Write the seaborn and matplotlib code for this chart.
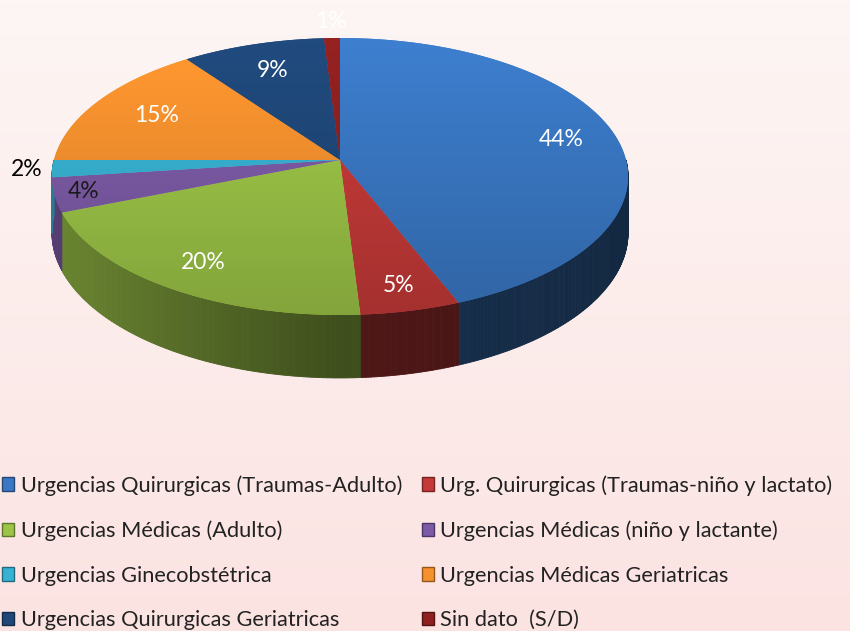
import numpy as np
import matplotlib
matplotlib.use("Agg")
import matplotlib.pyplot as plt
import seaborn as sns
from matplotlib.patches import Polygon, Patch
from matplotlib.collections import PolyCollection
from matplotlib.colors import to_rgb

# datos
categorias = [
    "Urgencias Quirurgicas (Traumas-Adulto)",
    "Urg. Quirurgicas (Traumas-niño y lactato)",
    "Urgencias Médicas (Adulto)",
    "Urgencias Médicas (niño y lactante)",
    "Urgencias Ginecobstétrica",
    "Urgencias Médicas Geriatricas",
    "Urgencias Quirurgicas Geriatricas",
    "Sin dato  (S/D)",
]
porcentajes = [44, 5, 20, 4, 2, 15, 9, 1]

colores = ["#3a78c4", "#c43a38", "#9cc447", "#7c5ba6", "#38b2d2", "#f5912e", "#1f4778", "#8e2020"]
colores_txt = ["white", "white", "white", "#1a1a1a", "black", "white", "white", "white"]
dist_etiqueta = [0.8, 0.85, 0.82, 0.9, 1.09, 0.75, 0.76, 1.15]

sns.set_theme(style="white")
plt.rcParams["font.family"] = ["Lato", "DejaVu Sans"]

W, H = 850, 631
fig = plt.figure(figsize=(W / 100, H / 100), dpi=100)
ax = fig.add_axes([0, 0, 1, 1])
ax.set_xlim(0, W)
ax.set_ylim(H, 0)
ax.axis("off")

# fondo degradado
fondo = np.linspace(0, 1, 200)[:, None, None]
c_arriba = np.array(to_rgb("#fdf6f4"))
c_abajo = np.array(to_rgb("#fbe3e2"))
img = c_arriba * (1 - fondo) + c_abajo * fondo
ax.imshow(img, extent=(0, W, H, 0), aspect="auto", zorder=0)

# geometria del pastel 3D (perspectiva simple)
cx, cy = 340, 160
rx, a, b = 286, 136.5, 0.119
prof = 55.5


def proyectar(X, Z):
    den = 1 + b * Z
    return cx + rx * X / den, cy - a * Z / den


def fondo_y(X, Z):
    return proyectar(X, Z)[1] + prof / (1 + b * Z)


def sombra(t):
    c = np.cos(t)
    return 0.40 + 0.30 * max(-c, 0) - 0.07 * max(c, 0)


fracs = np.array(porcentajes) / np.sum(porcentajes)
inicio = np.pi / 2
angulos = []
for f in fracs:
    fin = inicio - f * 2 * np.pi
    angulos.append((fin, inicio))
    inicio = fin

# paredes laterales (mitad frontal)
for (t0, t1), col in zip(angulos, colores):
    lo, hi = max(t0, -np.pi), min(t1, 0)
    if lo >= hi:
        lo, hi = max(t0 + 2 * np.pi, -np.pi), min(t1 + 2 * np.pi, 0)
        if lo >= hi:
            continue
    ts = np.linspace(lo, hi, max(int((hi - lo) * 120), 3))
    quads, cols = [], []
    base = np.array(to_rgb(col))
    for u, v in zip(ts[:-1], ts[1:]):
        x0, y0 = proyectar(np.cos(u), np.sin(u))
        x1, y1 = proyectar(np.cos(v), np.sin(v))
        quads.append([(x0, y0), (x1, y1),
                      (x1, fondo_y(np.cos(v), np.sin(v))),
                      (x0, fondo_y(np.cos(u), np.sin(u)))])
        cols.append(np.clip(base * sombra((u + v) / 2), 0, 1))
    ax.add_collection(PolyCollection(quads, facecolors=cols, edgecolors=cols,
                                     linewidths=0.6, zorder=2))

# caras superiores con degradado
for (t0, t1), col in zip(angulos, colores):
    ts = np.linspace(t0, t1, 200)
    pts = [proyectar(0, 0)] + [proyectar(np.cos(t), np.sin(t)) for t in ts]
    poly = Polygon(pts, closed=True, facecolor=col, edgecolor="none", zorder=3)
    ax.add_patch(poly)
    base = np.array(to_rgb(col))
    g = np.linspace(0, 1, 100)[:, None, None]
    grad = np.clip(base * (1.06 - 0.22 * g), 0, 1)
    xs = [p[0] for p in pts]
    im = ax.imshow(grad, extent=(min(xs), max(xs), 315, 38), aspect="auto", zorder=4)
    im.set_clip_path(poly)

# etiquetas
for (t0, t1), p, tc, r in zip(angulos, porcentajes, colores_txt, dist_etiqueta):
    m = (t0 + t1) / 2
    x, y = proyectar(r * np.cos(m), r * np.sin(m))
    ax.text(x, y, f"{p}%", color=tc, fontsize=16.5, ha="center", va="center", zorder=6)

ax.set_xlim(0, W)
ax.set_ylim(H, 0)

# leyenda en filas
handles = [Patch(facecolor=c, edgecolor=np.clip(np.array(to_rgb(c)) * 0.6, 0, 1), linewidth=1.0)
           for c in colores]
orden = [0, 2, 4, 6, 1, 3, 5, 7]
fig.legend([handles[i] for i in orden], [categorias[i] for i in orden],
           ncol=2, loc="upper left", bbox_to_anchor=(0.0, 1 - 473 / H),
           frameon=False, fontsize=15.7, handlelength=0.55, handleheight=0.55,
           handletextpad=0.3, labelspacing=1.13, columnspacing=0.9,
           borderaxespad=0, borderpad=0.1, labelcolor="#222222")

fig.savefig("out.png", dpi=100)
